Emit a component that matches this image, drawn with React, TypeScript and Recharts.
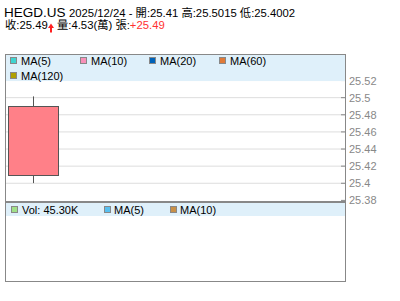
import React from 'react';
import { ComposedChart, Bar, XAxis, YAxis, CartesianGrid } from 'recharts';

const symbol = 'HEGD.US';
const dates = ['2025/12/24'];
const opens = [25.41];
const highs = [25.5015];
const lows = [25.4002];
const closes = [25.49];
const changes = [25.49];
const volumesLots = [45300];
const priceTicks = [25.38, 25.4, 25.42, 25.44, 25.46, 25.48, 25.5, 25.52];
const priceDomain = [25.38, 25.551];
const slotDomain = [-0.5, 5.5];
const maLabels = ['MA(5)', 'MA(10)', 'MA(20)', 'MA(60)', 'MA(120)'];
const maColors = ['#3fd4d0', '#f890b8', '#0062b8', '#e07a38', '#b0a000'];
const volLabels = ['MA(5)', 'MA(10)'];
const volColors = ['#a0e088', '#58c0f0', '#c89048'];

const data = dates.map((d, i) => ({
  idx: i,
  date: d,
  open: opens[i],
  high: highs[i],
  low: lows[i],
  close: closes[i],
  range: [lows[i], highs[i]],
}));

const FONT = "'Liberation Sans', Arial, 'Noto Sans CJK TC', sans-serif";
const GRAY = '#888888';

const Candle = (props: any) => {
  const { x, y, width, height, payload } = props;
  if (x == null || y == null) return null;
  const { open, high, low, close } = payload;
  const span = high - low || 1;
  const py = (v: number) => y + ((high - v) / span) * height;
  const cx = Math.round(x + width / 2) + 0.5;
  const top = py(Math.max(open, close));
  const bot = py(Math.min(open, close));
  const up = close >= open;
  const left = Math.round(x) + 0.5;
  const w = Math.round(width);
  return (
    <g>
      <line x1={cx} x2={cx} y1={y} y2={y + height} stroke="#555555" strokeWidth={1} />
      <rect
        x={left}
        y={Math.round(top) + 0.5}
        width={w}
        height={Math.round(bot) - Math.round(top)}
        fill={up ? '#ff8088' : '#5fbf5f'}
        stroke="#555555"
        strokeWidth={1}
      />
    </g>
  );
};

const PriceTick = (props: any) => {
  const { x, y, payload } = props;
  const ax = x - 4;
  return (
    <g>
      <line x1={ax - 4} x2={ax} y1={y} y2={y} stroke={GRAY} strokeWidth={1} />
      <text x={x} y={y} dy={4} fill={GRAY} fontSize={11} fontFamily={FONT} textAnchor="start">
        {String(payload.value)}
      </text>
    </g>
  );
};

const fmtVolK = (v: number) => (v / 1000).toFixed(2) + 'K';
const fmtWan = (v: number) => (v / 10000).toFixed(2);

export default function App() {
  const last = data.length - 1;
  return (
    <div style={{ position: 'absolute', left: 0, top: 0, width: 400, height: 301, background: '#ffffff', overflow: 'hidden' }}>
      <div style={{ position: 'absolute', left: 0, top: 0 }}>
        <ComposedChart width={400} height={301} data={data} margin={{ top: 54, right: 0, bottom: 100.6, left: 5 }}>
          <CartesianGrid
            horizontal
            vertical={false}
            stroke="#dddddd"
            horizontalValues={priceTicks.slice(1)}
          />
          <XAxis dataKey="idx" type="number" domain={slotDomain} hide />
          <YAxis
            orientation="right"
            width={55}
            domain={priceDomain}
            ticks={priceTicks}
            axisLine={false}
            tickLine={false}
            tickSize={4}
            tickMargin={0}
            tick={<PriceTick />}
            allowDataOverflow
            interval={0}
          />
          <Bar dataKey="range" barSize={50} shape={<Candle />} isAnimationActive={false} />
        </ComposedChart>
      </div>
      <svg width={400} height={301} style={{ position: 'absolute', left: 0, top: 0, pointerEvents: 'none' }} fontFamily={FONT}>
        {/* header */}
        <text x={4} y={17} fill="#000" fontSize={13.5}>{symbol}</text>
        <text x={69} y={17} fill="#000" fontSize={11.3}>
          {`${dates[last]} - 開:${opens[last]} 高:${highs[last]} 低:${lows[last]}`}
        </text>
        <text x={5} y={29} fill="#000" fontSize={11.3}>{`收:${closes[last]}`}</text>
        <path d="M51,23.5 L54,28 L52,28 L52,32.5 L50,32.5 L50,28 L48,28 Z" fill="#ff2020" />
        <text x={57} y={29} fill="#000" fontSize={11.3}>
          {`量:${fmtWan(volumesLots[last])}(萬) 張:`}
          <tspan fill="#ff3030">{`+${changes[last]}`}</tspan>
        </text>

        {/* price legend band */}
        <rect x={6} y={55} width={339} height={26} fill="#dff0fa" />
        {maLabels.map((lab, i) => {
          const row = i < 4 ? 0 : 1;
          const col = i < 4 ? i : 0;
          const sx = 10 + Math.round(69.7 * col);
          const sy = 57 + row * 15;
          return (
            <g key={lab}>
              <rect x={sx + 0.5} y={sy + 0.5} width={6} height={6} fill={maColors[i]} stroke={GRAY} strokeWidth={1} />
              <text x={sx + 11} y={sy + 8} fontSize={11} fill="#000">{lab}</text>
            </g>
          );
        })}

        {/* volume legend band */}
        <rect x={6} y={203} width={339} height={13} fill="#dff0fa" />
        <rect x={11.5} y={206.5} width={6} height={6} fill={volColors[0]} stroke={GRAY} strokeWidth={1} />
        <text x={22} y={214} fontSize={11} fill="#000">{`Vol: ${fmtVolK(volumesLots[last])}`}</text>
        {volLabels.map((lab, i) => {
          const sx = 104 + 66 * i;
          return (
            <g key={lab}>
              <rect x={sx + 0.5} y={206.5} width={6} height={6} fill={volColors[i + 1]} stroke={GRAY} strokeWidth={1} />
              <text x={sx + 10} y={214} fontSize={11} fill="#000">{lab}</text>
            </g>
          );
        })}

        {/* frame */}
        <rect x={5.5} y={54.5} width={340} height={227} fill="none" stroke={GRAY} strokeWidth={1} />
        <rect x={5} y={201} width={341} height={2} fill={GRAY} />
      </svg>
    </div>
  );
}
